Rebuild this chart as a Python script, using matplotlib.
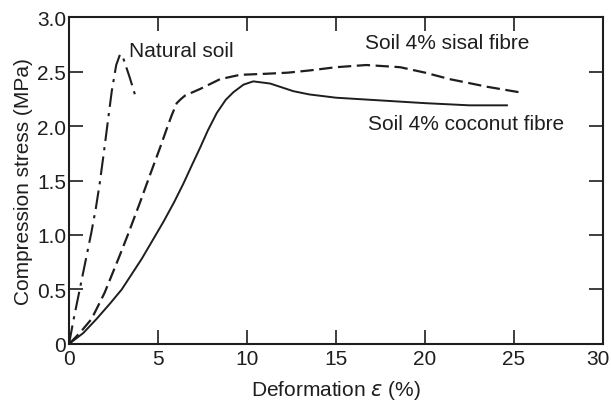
import matplotlib.pyplot as plt
import matplotlib.transforms as mtransforms

plt.rcParams['font.family'] = ['Liberation Sans', 'DejaVu Sans']
plt.rcParams['mathtext.fontset'] = 'dejavusans'

# Natural soil (dash-dot)
natural_strain = [0, 0.25, 0.5, 0.9, 1.25, 1.5, 1.72, 1.95, 2.17, 2.4, 2.65, 2.87, 3.05, 3.4, 3.7]
natural_stress = [0, 0.22, 0.42, 0.74, 1.02, 1.24, 1.47, 1.75, 2.03, 2.32, 2.56, 2.66, 2.62, 2.45, 2.29]

# Soil + 4% sisal fibre (dashed)
sisal_strain = [0, 0.6, 1.27, 2.0, 2.77, 3.3, 3.99, 4.5, 5.11, 5.5, 5.77, 6.05, 6.3, 6.52, 7.36, 8.48,
                9.6, 11.1, 12.3, 13.5, 15.0, 16.7, 18.6, 20.0, 21.4, 23.5, 25.3]
sisal_stress = [0, 0.1, 0.23, 0.47, 0.78, 1.0, 1.30, 1.53, 1.80, 1.98, 2.10, 2.21, 2.25, 2.28, 2.34, 2.43,
                2.47, 2.48, 2.49, 2.51, 2.54, 2.56, 2.54, 2.49, 2.43, 2.36, 2.31]

# Soil + 4% coconut fibre (solid)
coconut_strain = [0, 0.8, 1.55, 2.3, 2.96, 4.08, 5.3, 5.9, 6.42, 6.9, 7.36, 7.8, 8.3, 8.8, 9.23,
                  9.8, 10.35, 11.3, 12.6, 13.5, 15.0, 17.0, 20.0, 22.5, 24.6]
coconut_stress = [0, 0.1, 0.23, 0.37, 0.5, 0.78, 1.12, 1.30, 1.47, 1.64, 1.80, 1.96, 2.12, 2.24, 2.31,
                  2.38, 2.41, 2.39, 2.32, 2.29, 2.26, 2.24, 2.21, 2.19, 2.19]

x_ticks = [0, 5, 10, 15, 20, 25, 30]
y_ticks = [0, 0.5, 1.0, 1.5, 2.0, 2.5, 3.0]
y_tick_labels = ['0', '0.5', '1.0', '1.5', '2.0', '2.5', '3.0']

ink = '#1e1e1e'
fig = plt.figure(figsize=(6.11, 4.02), dpi=100)
ax = fig.add_axes([0.113, 0.142, 0.874, 0.813])

ax.plot(natural_strain, natural_stress, color=ink, lw=1.5, dashes=(9, 3, 1.5, 3))
ax.plot(sisal_strain, sisal_stress, color=ink, lw=1.6, dashes=(6, 2.5))
ax.plot(coconut_strain, coconut_stress, color=ink, lw=1.4)

fs = 15
ax.text(3.35, 2.69, 'Natural soil', fontsize=fs, va='center', ha='left', color=ink)
ax.text(16.6, 2.77, 'Soil 4% sisal fibre', fontsize=fs, va='center', ha='left', color=ink)
ax.text(16.8, 2.02, 'Soil 4% coconut fibre', fontsize=fs, va='center', ha='left', color=ink)

ax.set_xlim(0, 30)
ax.set_ylim(0, 3.0)
ax.set_xticks(x_ticks)
ax.set_yticks(y_ticks)
ax.set_yticklabels(y_tick_labels)
ax.tick_params(direction='in', length=10, width=1.2, top=True, right=True,
               labelsize=fs, colors=ink, pad=2)
ax.tick_params(axis='x', pad=4)
for s in ax.spines.values():
    s.set_linewidth(1.5)
    s.set_color(ink)

# pull the last x label in so it stays on the canvas
last = ax.get_xticklabels()[-1]
last.set_transform(last.get_transform() + mtransforms.ScaledTranslation(-5 / 100, 0, fig.dpi_scale_trans))

ax.set_xlabel(r'Deformation $\varepsilon$ (%)', fontsize=fs, color=ink, labelpad=7)
ax.set_ylabel('Compression stress (MPa)', fontsize=fs, color=ink, labelpad=3)

fig.savefig('out.png', dpi=100)
